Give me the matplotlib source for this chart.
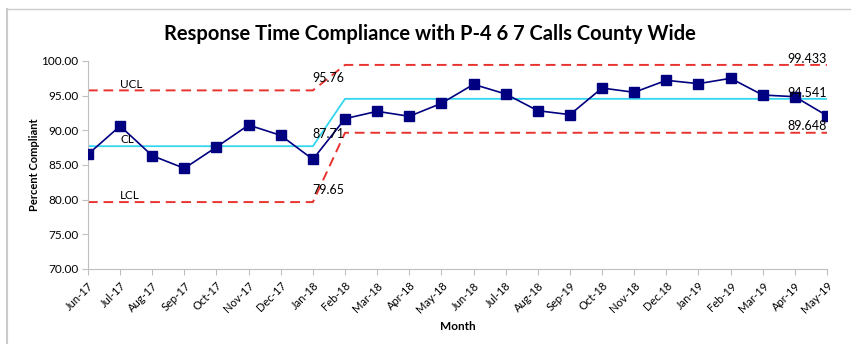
import matplotlib.pyplot as plt
from matplotlib.lines import Line2D

months = ["Jun-17", "Jul-17", "Aug-17", "Sep-17", "Oct-17", "Nov-17", "Dec-17", "Jan-18",
          "Feb-18", "Mar-18", "Apr-18", "May-18", "Jun-18", "Jul-18", "Aug-18", "Sep-19",
          "Oct-18", "Nov-18", "Dec.18", "Jan-19", "Feb-19", "Mar-19", "Apr-19", "May-19"]
compliance = [86.54, 90.62, 86.34, 84.52, 87.59, 90.76, 89.27, 85.81,
              91.68, 92.74, 92.02, 93.89, 96.63, 95.24, 92.83, 92.26,
              96.10, 95.48, 97.21, 96.73, 97.50, 95.09, 94.85, 92.11]
# control limits per phase (phase 1: Jun-17..Jan-18, phase 2: Feb-18..May-19)
phase1_n = 8
cl_vals = [87.71, 94.541]
ucl_vals = [95.76, 99.433]
lcl_vals = [79.65, 89.648]

plt.rcParams['font.family'] = ['Lato', 'DejaVu Sans']

fig = plt.figure(figsize=(8.6, 3.56), dpi=100, facecolor="white")
ax = fig.add_axes([0.1023, 0.2444, 0.8593, 0.5843])

x = list(range(len(months)))
n2 = len(months) - phase1_n
cl = [cl_vals[0]] * phase1_n + [cl_vals[1]] * n2
ucl = [ucl_vals[0]] * phase1_n + [ucl_vals[1]] * n2
lcl = [lcl_vals[0]] * phase1_n + [lcl_vals[1]] * n2

red = "#e8332f"
ax.plot(x, ucl, color=red, lw=1.4, dashes=(5, 3), zorder=2)
ax.plot(x, lcl, color=red, lw=1.4, dashes=(5, 3), zorder=2)
ax.plot(x, cl, color="#33d6f0", lw=1.3, zorder=2)
ax.plot(x, compliance, color="#000080", lw=1.2, marker="s", ms=7,
        markerfacecolor="#000080", markeredgecolor="#000080", zorder=3)

# limit labels
ax.text(1.0, ucl_vals[0] + 0.9, "UCL", fontsize=8.5, ha="left", va="center")
ax.text(1.0, cl_vals[0] + 0.9, "CL", fontsize=8.5, ha="left", va="center")
ax.text(1.0, lcl_vals[0] + 0.9, "LCL", fontsize=8.5, ha="left", va="center")
ax.text(6.98, ucl_vals[0] + 1.75, f"{ucl_vals[0]:.2f}", fontsize=9, ha="left", va="center")
ax.text(6.98, cl_vals[0] + 1.8, f"{cl_vals[0]:.2f}", fontsize=9, ha="left", va="center")
ax.text(6.98, lcl_vals[0] + 1.75, f"{lcl_vals[0]:.2f}", fontsize=9, ha="left", va="center")
ax.text(23, ucl_vals[1] + 0.9, f"{ucl_vals[1]:.3f}", fontsize=9, ha="right", va="center", clip_on=False)
ax.text(23, cl_vals[1] + 0.9, f"{cl_vals[1]:.3f}", fontsize=9, ha="right", va="center")
ax.text(23, lcl_vals[1] + 0.95, f"{lcl_vals[1]:.3f}", fontsize=9, ha="right", va="center")

ax.set_xlim(0, len(months) - 1)
ax.set_ylim(70, 100)
ax.set_yticks([70, 75, 80, 85, 90, 95, 100])
ax.set_yticklabels([f"{v:.2f}" for v in [70, 75, 80, 85, 90, 95, 100]], fontsize=8.5)
ax.set_xticks(x)
ax.set_xticklabels(months, rotation=45, ha="right", rotation_mode="anchor", fontsize=8)
ax.tick_params(axis="both", color="#bfbfbf", length=4, pad=3)
ax.tick_params(axis="x", pad=4)

for spine in ["top", "right"]:
    ax.spines[spine].set_visible(False)
ax.spines["left"].set_color("#bfbfbf")
ax.spines["bottom"].set_color("#bfbfbf")

ax.set_ylabel("Percent Compliant", fontsize=8, fontweight="bold", labelpad=1)
ax.set_xlabel("Month", fontsize=8.5, fontweight="bold", labelpad=4)

fig.text(0.5, 0.905, "Response Time Compliance with P-4 6 7 Calls County Wide",
         ha="center", va="center", fontsize=14.5, fontweight="bold")

# light frame of the original screenshot
fig.add_artist(Line2D([7 / 860, 850 / 860], [1 - 9 / 356, 1 - 9 / 356], color="#cccccc", lw=1))
fig.add_artist(Line2D([7 / 860, 7 / 860], [1 - 9 / 356, 1 - 343 / 356], color="#cccccc", lw=1.5))

fig.savefig("out.png", dpi=100, facecolor="white")
